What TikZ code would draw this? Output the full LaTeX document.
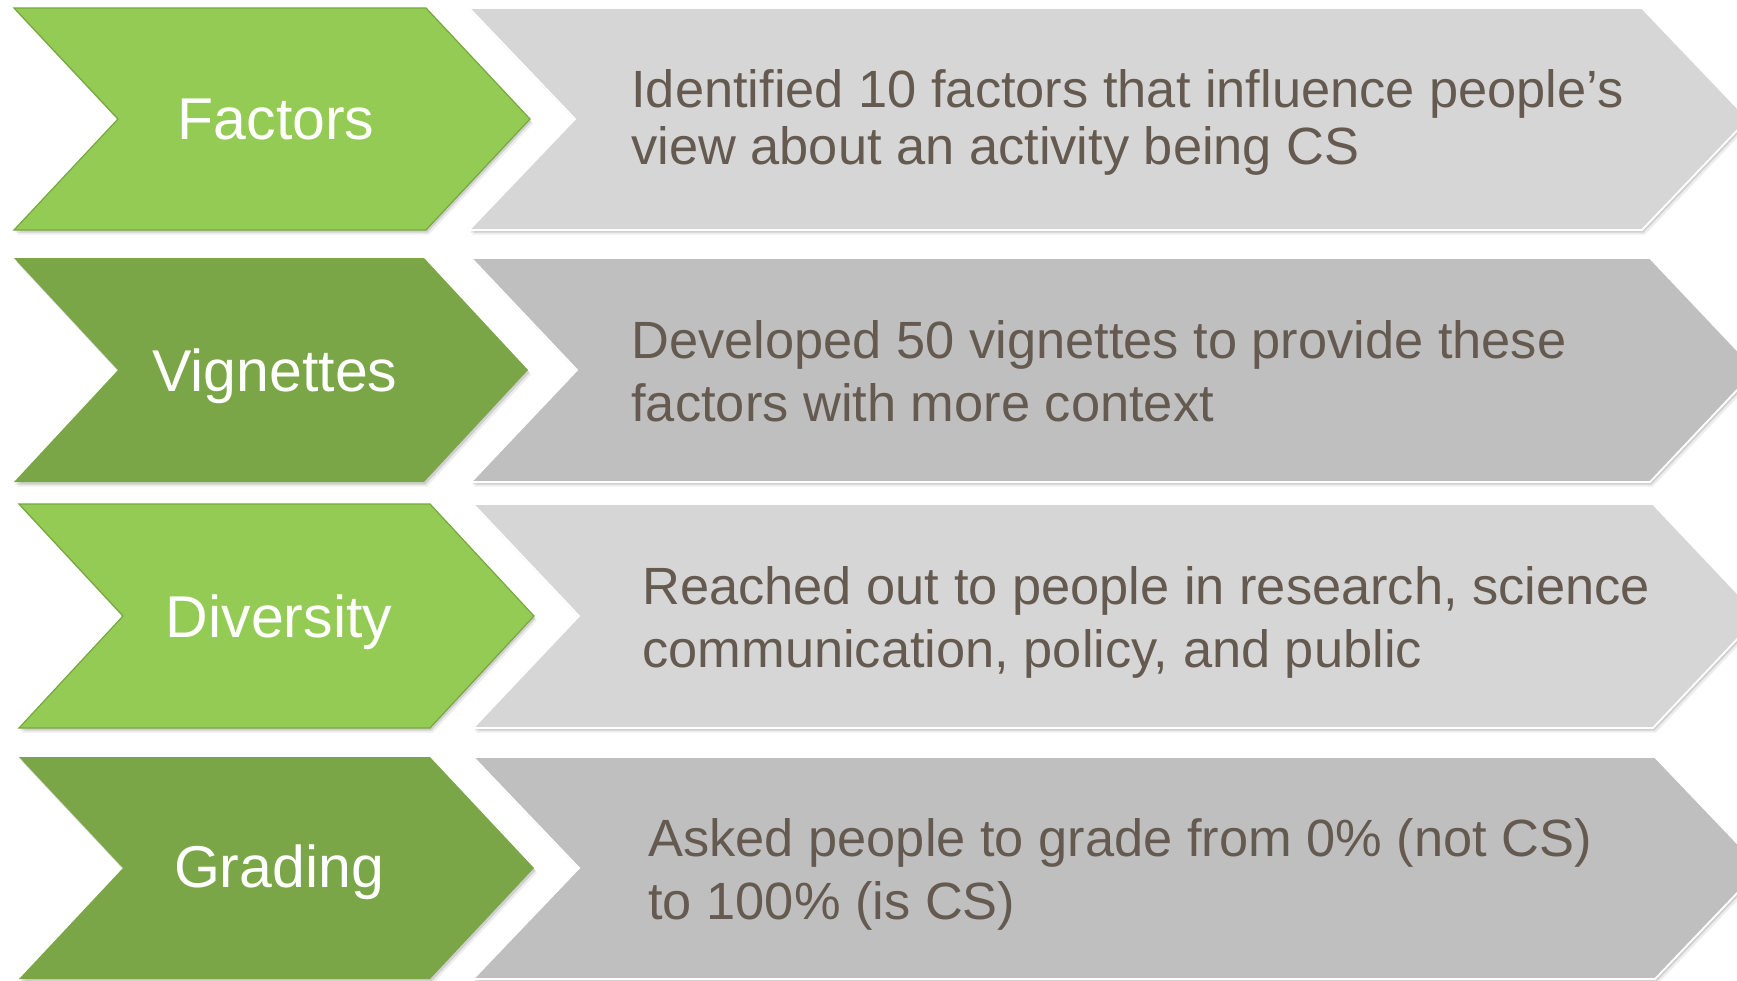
\documentclass[tikz,border=0pt]{standalone}
\usepackage{fontspec}
\setmainfont{Liberation Sans}
\definecolor{greenlight}{RGB}{148,203,84}
\definecolor{greenlightedge}{RGB}{118,168,62}
\definecolor{greendark}{RGB}{122,166,71}
\definecolor{graylight}{RGB}{214,214,214}
\definecolor{graydark}{RGB}{191,191,191}
\definecolor{txtbrown}{RGB}{101,90,80}
% chevron: left x, corner x, top y, bottom y, point depth, path options
\newcommand\chevshape[6]{%
  \path[#6] (#1,#3) -- (#2,#3) -- (#2+#5,{(#3+#4)/2}) -- (#2,#4) -- (#1,#4)
    -- (#1+#5,{(#3+#4)/2}) -- cycle;}
% soft drop shadow under a chevron
\newcommand\chevshadow[5]{%
  \chevshape{#1}{#2}{#3}{#4}{#5}{fill=black,opacity=0.07,shift={(3,4.5)}}%
  \chevshape{#1}{#2}{#3}{#4}{#5}{fill=black,opacity=0.12,shift={(1.5,2.5)}}}
\begin{document}
\begin{tikzpicture}[x=0.5pt,y=-0.5pt,
  steplabel/.style={text=white,inner sep=0pt,anchor=base,
    font=\fontsize{29.5}{34}\selectfont},
  desctext/.style={text=txtbrown,inner sep=0pt,anchor=base west},
  lightgreen/.style={fill=greenlight,draw=greenlightedge,line width=0.6pt,line join=miter},
  darkgreen/.style={fill=greendark},
  lightgray/.style={fill=graylight,draw=white,line width=0.9pt},
  darkgray/.style={fill=graydark,draw=white,line width=0.9pt}]
\useasboundingbox (0,0) rectangle (1737,981);
\fill[white] (0,0) rectangle (1737,981);
\clip (0,0) rectangle (1737,981);

% shadows
\chevshadow{14}{426}{8}{230}{104}
\chevshadow{469}{1642}{8}{230}{106}
\chevshadow{14}{424}{258}{482}{104}
\chevshadow{471}{1650}{258}{482}{106}
\chevshadow{19}{430}{504}{728}{104}
\chevshadow{473}{1653}{504}{728}{106}
\chevshadow{19}{430}{757}{979}{104}
\chevshadow{473}{1655}{757}{979}{106}

% step chevrons (left) and description arrows (right)
\chevshape{14}{426}{8}{230}{104}{lightgreen}
\chevshape{469}{1642}{8}{230}{106}{lightgray}
\chevshape{14}{424}{258}{482}{104}{darkgreen}
\chevshape{471}{1650}{258}{482}{106}{darkgray}
\chevshape{19}{430}{504}{728}{104}{lightgreen}
\chevshape{473}{1653}{504}{728}{106}{lightgray}
\chevshape{19}{430}{757}{979}{104}{darkgreen}
\chevshape{473}{1655}{757}{979}{106}{darkgray}

% step names
\node[steplabel] (factors) at (276,139) {Factors};
\node[steplabel] (vignettes) at (275,391) {Vignettes};
\node[steplabel] (diversity) at (279,637) {Diversity};
\node[steplabel] (grading) at (279,887) {Grading};

% descriptions
\node[desctext] (factorsdesc) at (631,107.5) {\fontsize{26.2}{28.25}\selectfont
  \begin{tabular}[t]{@{}l@{}}Identified 10 factors that influence people’s\\
  view about an activity being CS\end{tabular}};
\node[desctext] (vignettesdesc) at (631,358) {\fontsize{26.2}{31.5}\selectfont
  \begin{tabular}[t]{@{}l@{}}Developed 50 vignettes to provide these\\
  factors with more context\end{tabular}};
\node[desctext] (diversitydesc) at (642,604) {\fontsize{26.2}{31.5}\selectfont
  \begin{tabular}[t]{@{}l@{}}Reached out to people in research, science\\
  communication, policy, and public\end{tabular}};
\node[desctext] (gradingdesc) at (648,856) {\fontsize{26.2}{31.5}\selectfont
  \begin{tabular}[t]{@{}l@{}}Asked people to grade from 0\% (not CS)\\
  to 100\% (is CS)\end{tabular}};
\end{tikzpicture}
\end{document}
